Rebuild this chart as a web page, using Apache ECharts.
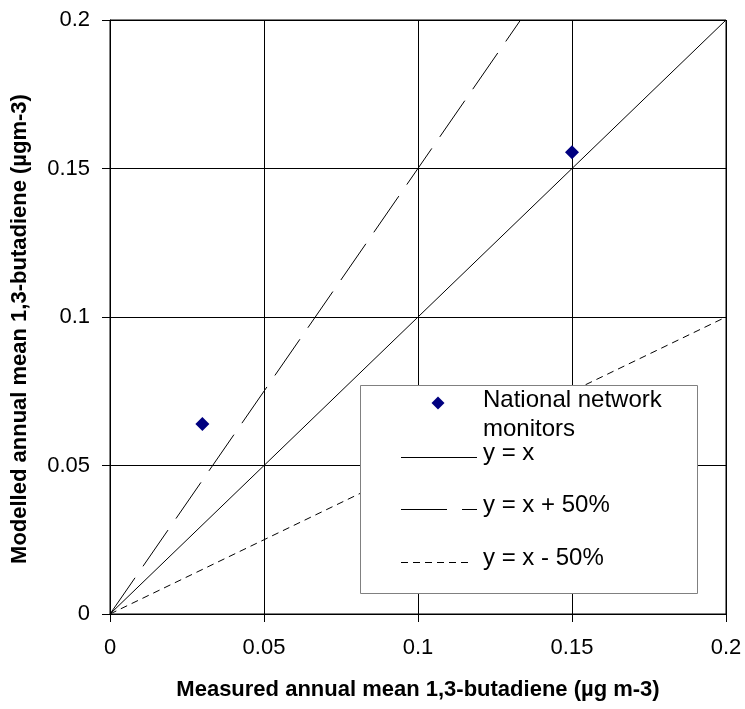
<!DOCTYPE html>
<html>
	<head>
		<meta charset="UTF-8" />
		<title>1,3-butadiene: modelled vs measured</title>
		<style>
			html, body { margin: 0; padding: 0; background: #fff; }
			#chart { width: 745px; height: 709px; }
		</style>
	</head>
	<body>
		<div id="chart"></div>
		<script type="text/javascript" src="https://cdn.jsdelivr.net/npm/echarts@6/dist/echarts.min.js"></script>
		<script type="text/javascript">
			// measured vs modelled annual means at the national network sites
			const measured = [0.03, 0.15];
			const modelled = [0.064, 0.1555];
			// reference lines, as [x, y] end points
			const lineEqual = [[0, 0], [0.2, 0.2]];
			const linePlus50 = [[0, 0], [0.1333, 0.2]];
			const lineMinus50 = [[0, 0], [0.2, 0.1]];
			const legendNames = ["National network\nmonitors", "y = x", "y = x + 50%", "y = x - 50%"];

			const font = "Liberation Sans, Arial, sans-serif";
			const chart = echarts.init(document.getElementById("chart"));

			const axisCommon = {
				type: "value",
				min: 0,
				max: 0.2,
				interval: 0.05,
				nameLocation: "middle",
				nameTextStyle: { fontFamily: font, fontSize: 22, fontWeight: "bold", color: "#000" },
				axisLine: { show: true, lineStyle: { color: "#000", width: 1 } },
				axisTick: { show: true, inside: false, length: 8, lineStyle: { color: "#000" } },
				splitLine: { show: true, lineStyle: { color: "#000", width: 1 } },
				axisLabel: { fontFamily: font, fontSize: 22, color: "#000" }
			};

			// legend drawn by hand, it has a layout the built-in one cannot do
			const lx = 360, ly = 385;
			const legendText = function(x, y, text) {
				return { type: "text", z: 100, x: x, y: y, style: { text: text, fill: "#000", font: "24px " + font, verticalAlign: "middle" } };
			};

			const option = {
				animation: false,
				backgroundColor: "#fff",
				grid: { left: 110, top: 20, width: 616, height: 594, show: true, borderColor: "#000", borderWidth: 1 },
				xAxis: Object.assign({}, axisCommon, {
					name: "Measured annual mean 1,3-butadiene (µg m-3)",
					nameGap: 65,
					axisLabel: Object.assign({}, axisCommon.axisLabel, { margin: 23 })
				}),
				yAxis: Object.assign({}, axisCommon, {
					name: "Modelled annual mean 1,3-butadiene (µgm-3)",
					nameGap: 79,
					nameTextStyle: Object.assign({}, axisCommon.nameTextStyle, { padding: [0, 24, 0, 0] }),
					axisLabel: Object.assign({}, axisCommon.axisLabel, { margin: 20 })
				}),
				series: [{
					name: legendNames[1],
					type: "line",
					data: lineEqual,
					symbol: "none",
					lineStyle: { color: "#000", width: 1, type: "solid" }
				}, {
					name: legendNames[2],
					type: "line",
					data: linePlus50,
					symbol: "none",
					lineStyle: { color: "#000", width: 1, type: [44, 14] }
				}, {
					name: legendNames[3],
					type: "line",
					data: lineMinus50,
					symbol: "none",
					lineStyle: { color: "#000", width: 1, type: [7, 5] }
				}, {
					name: legendNames[0],
					type: "scatter",
					data: measured.map(function(v, i) { return [v, modelled[i]]; }),
					symbol: "diamond",
					symbolSize: 14,
					itemStyle: { color: "#000080", opacity: 1 },
					z: 5
				}],
				graphic: [
					{ type: "rect", z: 100, shape: { x: lx + 0.5, y: ly + 0.5, width: 337, height: 208 }, style: { fill: "#fff", stroke: "#808080", lineWidth: 1 } },
					{ type: "polygon", z: 101, shape: { points: [[438, 396.5], [444.5, 403], [438, 409.5], [431.5, 403]] }, style: { fill: "#000080" } },
					legendText(483, 400.5, "National network"),
					legendText(483, 429.5, "monitors"),
					{ type: "line", z: 101, shape: { x1: 401, y1: 457.5, x2: 477, y2: 457.5 }, style: { stroke: "#000", lineWidth: 1 } },
					legendText(483, 453, legendNames[1]),
					{ type: "line", z: 101, shape: { x1: 401, y1: 509.5, x2: 477, y2: 509.5 }, style: { stroke: "#000", lineWidth: 1, lineDash: [46, 15] } },
					legendText(483, 505.5, legendNames[2]),
					{ type: "line", z: 101, shape: { x1: 401, y1: 562.5, x2: 472, y2: 562.5 }, style: { stroke: "#000", lineWidth: 1, lineDash: [7, 5] } },
					legendText(483, 558.5, legendNames[3])
				]
			};
			chart.setOption(option);
		</script>
	</body>
</html>
